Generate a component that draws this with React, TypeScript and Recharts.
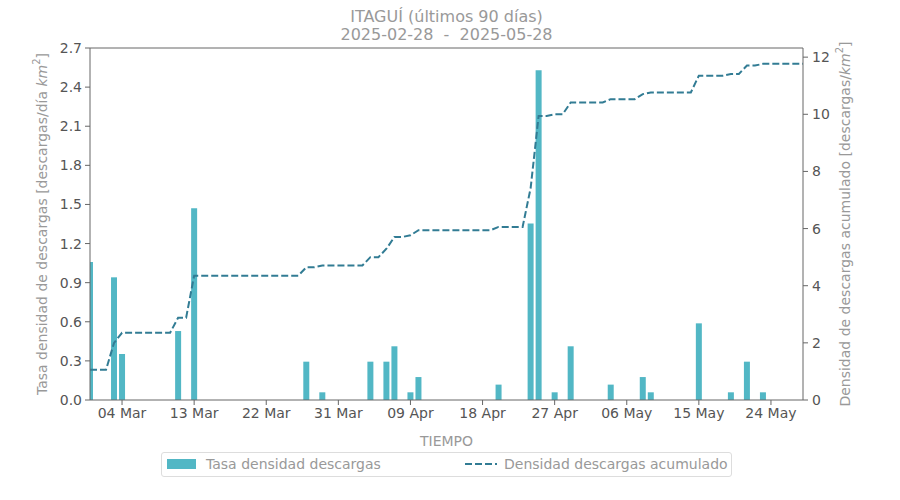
import React from 'react';
import { ComposedChart, Bar, Line, XAxis, YAxis, Legend, ReferenceLine } from 'recharts';

// días contados desde 2025-02-28 (día 0) con descargas
const eventDays = [0, 3, 4, 11, 13, 27, 29, 35, 37, 38, 40, 41, 51, 55, 56, 58, 60, 65, 69, 70, 76, 80, 82, 84];
const rates = [
  1.059, 0.941, 0.353, 0.529, 1.471, 0.294, 0.059, 0.294, 0.294, 0.412, 0.059, 0.176,
  0.118, 1.353, 2.529, 0.059, 0.412, 0.118, 0.176, 0.059, 0.588, 0.059, 0.294, 0.059,
];
const totalDays = 90;

const tickDays = [4, 13, 22, 31, 40, 49, 58, 67, 76, 85];
const tickLabels = ['04 Mar', '13 Mar', '22 Mar', '31 Mar', '09 Apr', '18 Apr', '27 Apr', '06 May', '15 May', '24 May'];
const leftTicks = [0, 0.3, 0.6, 0.9, 1.2, 1.5, 1.8, 2.1, 2.4, 2.7];
const rightTicks = [0, 2, 4, 6, 8, 10, 12];

const BAR_COLOR = '#52b7c5';
const LINE_COLOR = '#327c94';
const LABEL_COLOR = '#999999';
const TICK_COLOR = '#555555';
const AXIS_COLOR = '#666666';

const data: { day: number; rate: number | null; cumulative: number }[] = [];
let acc = 0;
for (let d = 0; d < totalDays; d++) {
  const i = eventDays.indexOf(d);
  const rate = i >= 0 ? rates[i] : null;
  if (rate) acc += rate;
  data.push({ day: d, rate, cumulative: acc });
}

const AxisLabel = (props: any) => {
  const { viewBox, head } = props;
  const cx = viewBox.x + 42;
  const cy = viewBox.y + viewBox.height / 2;
  return (
    <text
      x={cx}
      y={cy}
      transform={`rotate(-90, ${cx}, ${cy})`}
      textAnchor="middle"
      dominantBaseline="central"
      fill={LABEL_COLOR}
      fontSize={14}
    >
      <tspan>{head}</tspan>
      <tspan fontStyle="italic">km</tspan>
      <tspan dy={-6} fontSize={10}>2</tspan>
      <tspan dy={6}>]</tspan>
    </text>
  );
};

const LegendBox = () => (
  <div
    style={{
      position: 'relative',
      width: 569,
      height: 23,
      border: '1px solid #dddddd',
      borderRadius: 3,
      background: '#fff',
      fontSize: 14,
      color: LABEL_COLOR,
    }}
  >
    <div style={{ position: 'absolute', left: 5, top: 6, width: 29, height: 10, background: BAR_COLOR }} />
    <span style={{ position: 'absolute', left: 44, top: 3 }}>Tasa densidad descargas</span>
    <svg style={{ position: 'absolute', left: 303, top: 6 }} width={32} height={10}>
      <line x1={0} y1={5} x2={32} y2={5} stroke={LINE_COLOR} strokeWidth={2} strokeDasharray="7 3" />
    </svg>
    <span style={{ position: 'absolute', left: 342, top: 3 }}>Densidad descargas acumulado</span>
  </div>
);

const App = () => {
  return (
    <div style={{ position: 'absolute', left: 0, top: 0, width: 900, height: 500, fontFamily: 'DejaVu Sans', background: '#fff' }}>
      <div
        style={{
          position: 'absolute',
          left: 0,
          width: 893,
          top: 8,
          textAlign: 'center',
          fontSize: 16,
          lineHeight: '18px',
          color: LABEL_COLOR,
        }}
      >
        <div>ITAGUÍ (últimos 90 días)</div>
        <div style={{ whiteSpace: 'pre' }}>2025-02-28  -  2025-05-28</div>
      </div>
      <ComposedChart width={900} height={500} data={data} margin={{ top: 48, right: 0, bottom: 50, left: 0 }}>
        <XAxis
          dataKey="day"
          type="number"
          domain={[0, 89]}
          allowDataOverflow
          ticks={tickDays}
          tickFormatter={(v: number) => tickLabels[tickDays.indexOf(v)]}
          height={50}
          tickSize={5}
          tickMargin={3}
          stroke={AXIS_COLOR}
          tick={{ fill: TICK_COLOR, fontSize: 14 }}
          label={{ value: 'TIEMPO', position: 'insideBottom', offset: 4, fill: LABEL_COLOR, fontSize: 14 }}
        />
        <YAxis
          yAxisId="left"
          domain={[0, 2.7]}
          ticks={leftTicks}
          tickFormatter={(v: number) => v.toFixed(1)}
          width={90}
          tickSize={5}
          tickMargin={3}
          stroke={AXIS_COLOR}
          tick={{ fill: TICK_COLOR, fontSize: 14 }}
          label={<AxisLabel head="Tasa densidad de descargas [descargas/día " />}
        />
        <YAxis
          yAxisId="right"
          orientation="right"
          domain={[0, 12.32]}
          ticks={rightTicks}
          width={97}
          tickSize={5}
          tickMargin={4}
          stroke={AXIS_COLOR}
          tick={{ fill: TICK_COLOR, fontSize: 14 }}
          label={<AxisLabel head="Densidad de descargas acumulado [descargas/" />}
        />
        <ReferenceLine yAxisId="left" y={2.7} stroke={AXIS_COLOR} strokeWidth={1} />
        <Bar
          yAxisId="left"
          dataKey="rate"
          name="Tasa densidad descargas"
          fill={BAR_COLOR}
          barSize={6}
          isAnimationActive={false}
        />
        <Line
          yAxisId="right"
          dataKey="cumulative"
          name="Densidad descargas acumulado"
          type="linear"
          stroke={LINE_COLOR}
          strokeWidth={2}
          strokeDasharray="7 3"
          dot={false}
          activeDot={false}
          isAnimationActive={false}
        />
        <Legend
          layout="horizontal"
          verticalAlign="middle"
          align="center"
          wrapperStyle={{ position: 'absolute', left: 161, top: 452, width: 571, height: 25 }}
          content={() => <LegendBox />}
        />
      </ComposedChart>
    </div>
  );
};

export default App;
